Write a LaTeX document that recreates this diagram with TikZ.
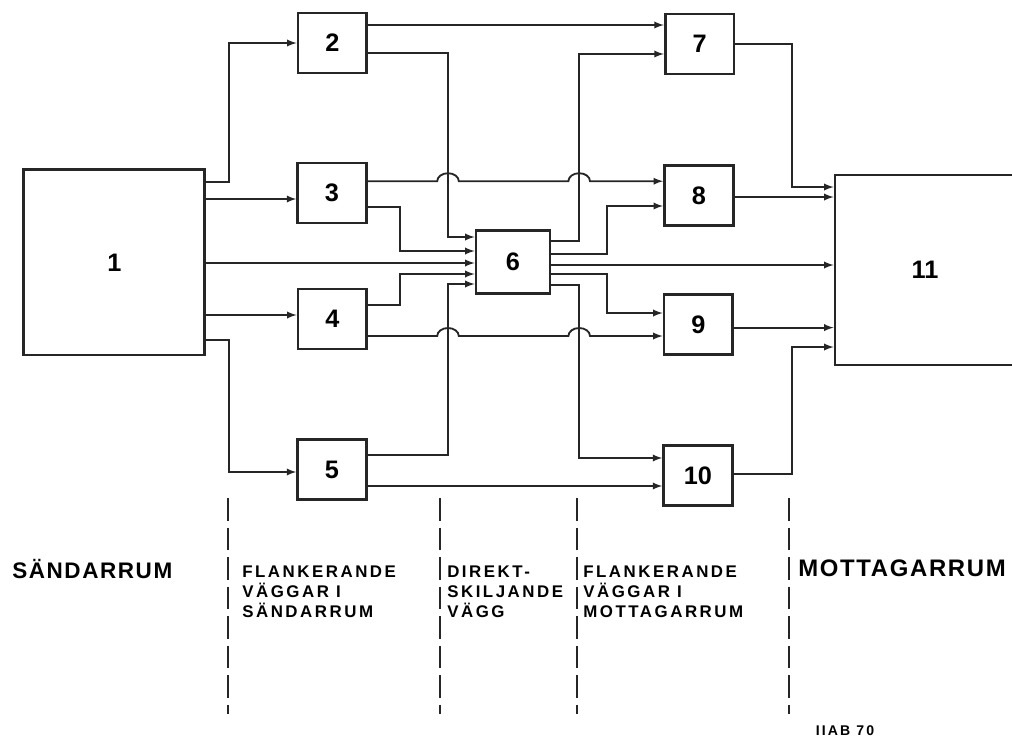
\documentclass[tikz,border=0pt]{standalone}
\usepackage{fontspec}
\setmainfont{Liberation Sans}
\newfontfamily\spacedfont{Liberation Sans}[LetterSpace=15]
\newfontfamily\widefont{Liberation Sans}[LetterSpace=7]
\usetikzlibrary{arrows}

\begin{document}
\begin{tikzpicture}
    \useasboundingbox (0,0) rectangle (25.3,-18.55);
    % --- STYLES ---
    \tikzstyle{blok} = [rectangle, draw=black!85, line width=2pt, fill=white, minimum width=1.72cm, minimum height=1.5cm, font=\fontsize{18}{20}\selectfont\bfseries]
    \tikzstyle{flow} = [-latex, line width=1.3pt, draw=black!85]
    \tikzstyle{sep} = [line width=2pt, draw=black!85, dash pattern=on 16pt off 5pt]
    \tikzstyle{rum} = [anchor=west, inner sep=0pt, font=\widefont\fontsize{16}{18}\selectfont\bfseries]
    \tikzstyle{vagg} = [anchor=west, inner sep=0pt, align=left, font=\spacedfont\fontsize{12}{14.2}\selectfont\bfseries]

    % --- NODES ---
    \node (b1)  [blok, minimum width=4.525cm, minimum height=4.625cm] at (2.86,-6.56) {1};
    \node (b2)  [blok] at (8.31,-1.075) {2};
    \node (b3)  [blok] at (8.30,-4.825) {3};
    \node (b4)  [blok] at (8.31,-7.975) {4};
    \node (b5)  [blok] at (8.30,-11.74) {5};
    \node (b6)  [blok, minimum width=1.85cm, minimum height=1.575cm] at (12.825,-6.54) {6};
    \node (b7)  [blok] at (17.49,-1.1) {7};
    \node (b8)  [blok] at (17.47,-4.89) {8};
    \node (b9)  [blok] at (17.46,-8.11) {9};
    \node (b10) [blok] at (17.45,-11.89) {10};
    \node (b11) [blok, minimum width=4.5cm, minimum height=4.75cm] at (23.125,-6.75) {11};

    % --- ARROWS ---
    % from 1
    \draw[flow] (b1.east |- 0,-4.55) -- (5.725,-4.55) |- (b2.west);
    \draw[flow] (b1.east |- 0,-4.975) -- (b3.west |- 0,-4.975);
    \draw[flow] (b1.east |- 0,-6.575) -- (b6.west |- 0,-6.575);
    \draw[flow] (b1.east |- 0,-7.875) -- (b4.west |- 0,-7.875);
    \draw[flow] (b1.east |- 0,-8.5) -- (5.725,-8.5) |- (b5.west |- 0,-11.8);

    % from 2, 3, 4, 5
    \draw[flow] (b2.east |- 0,-0.625) -- (b7.west |- 0,-0.625);
    \draw[flow] (b2.east |- 0,-1.335) -| (11.2,-5.925) -- (b6.west |- 0,-5.925);
    \draw[flow] (b3.east |- 0,-4.53) -- (10.93,-4.53) arc[start angle=180, end angle=0, x radius=0.27, y radius=0.2]
        -- (14.21,-4.53) arc[start angle=180, end angle=0, x radius=0.27, y radius=0.2] -- (b8.west |- 0,-4.53);
    \draw[flow] (b3.east |- 0,-5.175) -| (10,-6.275) -- (b6.west |- 0,-6.275);
    \draw[flow] (b4.east |- 0,-7.625) -| (10,-6.85) -- (b6.west |- 0,-6.85);
    \draw[flow] (b4.east |- 0,-8.4) -- (10.93,-8.4) arc[start angle=180, end angle=0, x radius=0.27, y radius=0.2]
        -- (14.21,-8.4) arc[start angle=180, end angle=0, x radius=0.27, y radius=0.2] -- (b9.west |- 0,-8.4);
    \draw[flow] (b5.east |- 0,-11.375) -| (11.2,-7.1) -- (b6.west |- 0,-7.1);
    \draw[flow] (b5.east |- 0,-12.15) -- (b10.west |- 0,-12.15);

    % from 6
    \draw[flow] (b6.east |- 0,-6.025) -| (14.48,-1.35) -- (b7.west |- 0,-1.35);
    \draw[flow] (b6.east |- 0,-6.35) -| (15.175,-5.15) -- (b8.west |- 0,-5.15);
    \draw[flow] (b6.east |- 0,-6.625) -- (b11.west |- 0,-6.625);
    \draw[flow] (b6.east |- 0,-6.85) -| (15.175,-7.825) -- (b9.west |- 0,-7.825);
    \draw[flow] (b6.east |- 0,-7.125) -| (14.48,-11.45) -- (b10.west |- 0,-11.45);

    % into 11
    \draw[flow] (b7.east) -| (19.8,-4.675) -- (b11.west |- 0,-4.675);
    \draw[flow] (b8.east |- 0,-4.925) -- (b11.west |- 0,-4.925);
    \draw[flow] (b9.east |- 0,-8.19) -- (b11.west |- 0,-8.19);
    \draw[flow] (b10.east |- 0,-11.85) -| (19.8,-8.675) -- (b11.west |- 0,-8.675);

    % --- ROOMS ---
    \draw[sep] (5.7,-12.45) -- (5.7,-17.85);
    \draw[sep] (11.0,-12.45) -- (11.0,-17.85);
    \draw[sep] (14.425,-12.45) -- (14.425,-17.85);
    \draw[sep] (19.725,-12.45) -- (19.725,-17.85);

    \node (sandar) [rum] at (0.3,-14.225) {SÄNDARRUM};
    \node (flank1) [vagg] at (6.05,-14.8) {FLANKERANDE\\VÄGGAR I\\SÄNDARRUM};
    \node (direkt) [vagg] at (11.175,-14.8) {DIREKT-\\SKILJANDE\\VÄGG};
    \node (flank2) [vagg] at (14.575,-14.8) {FLANKERANDE\\VÄGGAR I\\MOTTAGARRUM};
    \node (mottag) [rum, font=\widefont\fontsize{17}{19}\selectfont\bfseries] at (19.95,-14.2) {MOTTAGARRUM};
    \node (figid)  [font=\spacedfont\fontsize{10}{12}\selectfont\bfseries, inner sep=0pt] at (21.125,-18.275) {IIAB 70};
\end{tikzpicture}
\end{document}
